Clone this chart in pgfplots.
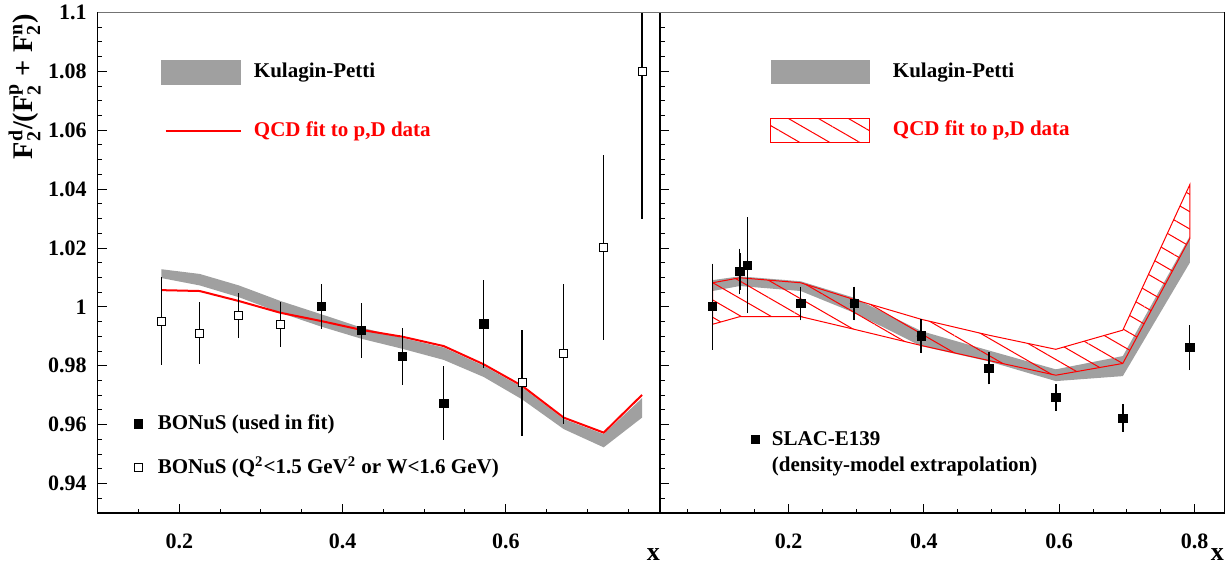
\documentclass[border=0pt]{standalone}
\usepackage{fontspec}
\setmainfont{Liberation Serif}
\usepackage{amsmath}
\usepackage{pgfplots}
\pgfplotsset{compat=1.18}
\usepackage{pgfplotstable}
\usepgfplotslibrary{fillbetween}
\usetikzlibrary{patterns.meta}

\definecolor{kpgray}{RGB}{160,160,160}

% ---------- left panel data ----------
\pgfplotstableread{
x up lo
0.178 1.0128 1.0098
0.225 1.0112 1.0073
0.273 1.0073 1.0033
0.324 1.0020 0.9980
0.374 0.9975 0.9933
0.423 0.9930 0.9892
0.473 0.9895 0.9858
0.524 0.9862 0.9820
0.573 0.9800 0.9762
0.620 0.9727 0.9686
0.671 0.9619 0.9585
0.720 0.9568 0.9523
0.767 0.9690 0.9624
}\kpleft

\pgfplotstableread{
x y
0.178 1.0057
0.225 1.0054
0.273 1.0020
0.324 0.9980
0.374 0.9952
0.423 0.9922
0.473 0.9899
0.524 0.9867
0.573 0.9805
0.620 0.9732
0.671 0.9624
0.720 0.9573
0.767 0.9701
}\qcdleft

\pgfplotstableread{
x y e
0.374 1.0002 0.0076
0.423 0.9921 0.0094
0.473 0.9832 0.0098
0.524 0.9673 0.0126
0.573 0.9942 0.0150
}\bonusfit

\pgfplotstableread{
x y e
0.178 0.9952 0.0150
0.225 0.9911 0.0105
0.273 0.9971 0.0076
0.324 0.9941 0.0077
0.620 0.9743 0.0180
0.671 0.9841 0.0237
0.720 1.0202 0.0314
0.767 1.0799 0.0500
}\bonusopen

% ---------- right panel data ----------
\pgfplotstableread{
x up lo
0.0877 1.0091 1.0054
0.128 1.0104 1.0071
0.218 1.0087 1.0054
0.297 1.0031 0.9980
0.396 0.9918 0.9867
0.496 0.9852 0.9815
0.595 0.9788 0.9748
0.694 0.9833 0.9765
0.793 1.0240 1.0150
}\kpright

\pgfplotstableread{
x up lo
0.0877 1.0082 0.9941
0.128 1.0099 0.9967
0.218 1.0082 0.9967
0.297 1.0025 0.9924
0.396 0.9958 0.9869
0.496 0.9904 0.9818
0.595 0.9856 0.9768
0.694 0.9921 0.9808
0.793 1.0415 1.0232
}\qcdright

\pgfplotstableread{
x y ein etot
0.0877 1.0001 0.0131 0.0131
0.128 1.0121 0.0062 0.0062
0.139 1.0142 0.0148 0.0148
0.218 1.0012 0.0042 0.0054
0.297 1.0012 0.0042 0.0056
0.396 0.9901 0.0040 0.0057
0.496 0.9792 0.0040 0.0054
0.595 0.9692 0.0030 0.0047
0.694 0.9622 0.0030 0.0048
0.793 0.9862 0.0061 0.0067
}\slac

\pgfplotsset{
  panel/.style={
    scale only axis, height=250.25pt,
    ymin=0.93, ymax=1.1,
    ytick={0.94,0.96,0.98,1,1.02,1.04,1.06,1.08,1.1},
    minor ytick={0.935,0.945,0.95,0.955,0.965,0.97,0.975,0.985,0.99,0.995,1.005,1.01,1.015,1.025,1.03,1.035,1.045,1.05,1.055,1.065,1.07,1.075,1.085,1.09,1.095},
    tick align=inside, xtick pos=bottom, ytick pos=left,
    major tick length=4.5pt, minor tick length=2.25pt,
    tick style={black, line width=0.5pt},
    axis line style={line width=0.6pt},
    /pgf/number format/assume math mode=true,
    tick label style={font=\bfseries\fontsize{11}{13}\selectfont},
    xticklabel style={anchor=base, inner sep=0pt, yshift=-17.5pt},
    yticklabel style={anchor=east, inner sep=0pt, xshift=-5.3pt},
    clip mode=individual,
  },
}
\tikzset{legtext/.style={anchor=west, inner sep=0pt, font=\bfseries\fontsize{10.5}{12}\selectfont}}

\begin{document}
\begin{tikzpicture}
% ================= LEFT PANEL =================
\begin{axis}[panel, name=L, at={(0pt,0pt)}, anchor=south west, width=281.15pt,
  xmin=0.1, xmax=0.789,
  xtick={0.2,0.4,0.6},
  minor xtick={0.15,0.25,0.3,0.35,0.45,0.5,0.55,0.65,0.7,0.75}]
\addplot[name path=kpU, draw=none] table[x=x,y=up]{\kpleft};
\addplot[name path=kpL, draw=none] table[x=x,y=lo]{\kpleft};
\addplot[fill=kpgray, draw=none] fill between[of=kpU and kpL];
\addplot[red, line width=1pt, mark=none] table[x=x,y=y]{\qcdleft};
\addplot[only marks, mark=square*, mark size=2.1pt, black,
  error bars/.cd, y dir=both, y explicit, error mark=none,
  error bar style={line width=0.6pt, black}]
  table[x=x,y=y,y error=e]{\bonusfit};
\addplot[only marks, mark=square*, mark size=2pt, black,
  mark options={fill=white, draw=black, line width=0.5pt},
  error bars/.cd, y dir=both, y explicit, error mark=none,
  error bar style={line width=0.6pt, black}]
  table[x=x,y=y,y error=e]{\bonusopen};
% legends
\fill[kpgray] (axis cs:0.177,1.0754) rectangle (axis cs:0.275,1.0839);
\node[legtext] at (axis cs:0.291,1.0797) {Kulagin-Petti};
\addplot[red, line width=1pt, mark=none] coordinates {(0.1832,1.0598) (0.275,1.0598)};
\node[legtext, text=red] at (axis cs:0.291,1.0598) {QCD fit to p,D data};
\addplot[only marks, mark=square*, mark size=2.1pt, black] coordinates {(0.1498,0.9602)};
\node[legtext] at (axis cs:0.1731,0.9602) {BONuS (used in fit)};
\addplot[only marks, mark=square*, mark size=2pt, mark options={fill=white, draw=black, line width=0.5pt}] coordinates {(0.1498,0.9455)};
\node[legtext] at (axis cs:0.1731,0.9455) {BONuS (Q\textsuperscript{2}<1.5 GeV\textsuperscript{2} or W<1.6 GeV)};
% axis labels
\node[rotate=90, anchor=base east, inner sep=0pt, font=\bfseries\fontsize{14.2}{16}\selectfont]
  at ([xshift=-32.4pt, yshift=-0.5pt]rel axis cs:0,1)
  {F$^{\text{d}}_{\text{2}}$/(F$^{\text{p}}_{\text{2}}$ + F$^{\text{n}}_{\text{2}}$)};
\node[anchor=base, inner sep=0pt, font=\bfseries\fontsize{13}{14}\selectfont]
  at ([xshift=-3.3pt, yshift=-23.5pt]rel axis cs:1,0) {x};
\end{axis}

% ================= RIGHT PANEL =================
\begin{axis}[panel, name=R, at={(281.15pt,0pt)}, anchor=south west, width=282.15pt,
  xmin=0.01, xmax=0.844,
  xtick={0.2,0.4,0.6,0.8},
  minor xtick={0.05,0.1,0.15,0.25,0.3,0.35,0.45,0.5,0.55,0.65,0.7,0.75},
  yticklabels={}]
\addplot[name path=kU, draw=none] table[x=x,y=up]{\kpright};
\addplot[name path=kL, draw=none] table[x=x,y=lo]{\kpright};
\addplot[fill=kpgray, draw=none] fill between[of=kU and kL];
\addplot[name path=qU, draw=none] table[x=x,y=up]{\qcdright};
\addplot[name path=qL, draw=none] table[x=x,y=lo]{\qcdright};
\addplot[draw=red, line width=0.5pt, pattern={Lines[angle=-30,distance=7.5pt,line width=0.5pt]}, pattern color=red] fill between[of=qU and qL];
% total errors
\addplot[only marks, mark=none, black,
  error bars/.cd, y dir=both, y explicit, error mark=none,
  error bar style={line width=0.7pt, black}]
  table[x=x,y=y,y error=etot]{\slac};
% inner errors with caps + markers
\addplot[only marks, mark=square*, mark size=2.1pt, black,
  error bars/.cd, y dir=both, y explicit, error mark=-,
  error mark options={black, mark size=2.25pt, line width=0.6pt},
  error bar style={line width=0.7pt, black}]
  table[x=x,y=y,y error=ein]{\slac};
% legends
\fill[kpgray] (axis cs:0.174,1.0758) rectangle (axis cs:0.3203,1.0839);
\node[legtext] at (axis cs:0.3537,1.0797) {Kulagin-Petti};
\draw[red, line width=0.5pt, pattern={Lines[angle=-30,distance=7.5pt,line width=0.5pt]}, pattern color=red]
  (axis cs:0.174,1.0560) rectangle (axis cs:0.3203,1.0641);
\node[legtext, text=red] at (axis cs:0.3537,1.0600) {QCD fit to p,D data};
\addplot[only marks, mark=square*, mark size=2.1pt, black] coordinates {(0.1508,0.9551)};
\node[legtext] at (axis cs:0.1749,0.9551) {SLAC-E139};
\node[legtext] at (axis cs:0.1749,0.9458) {(density-model extrapolation)};
\node[anchor=base, inner sep=0pt, font=\bfseries\fontsize{13}{14}\selectfont]
  at ([xshift=-3.5pt, yshift=-23.5pt]rel axis cs:1,0) {x};
\end{axis}
\draw[black!55, line width=0.6pt] (L.north west) -- (R.north east);
\pgfresetboundingbox
\path[use as bounding box] (-48.85pt,-25.5pt) rectangle (567.15pt,256.5pt);
\end{tikzpicture}
\end{document}
